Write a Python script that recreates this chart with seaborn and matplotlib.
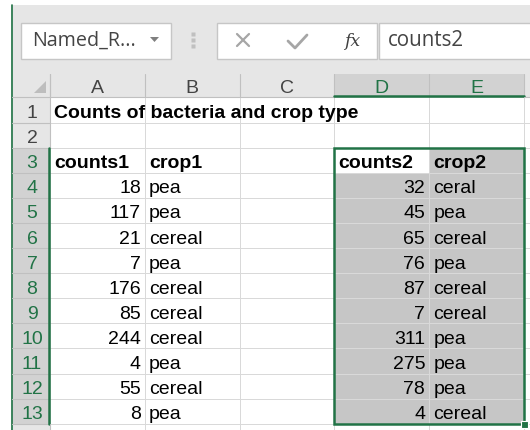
import numpy as np
import pandas as pd
import matplotlib
matplotlib.use("Agg")
import matplotlib.pyplot as plt
from matplotlib.colors import ListedColormap
from matplotlib.patches import Rectangle, Polygon
import seaborn as sns

# -- sheet contents
title = "Counts of bacteria and crop type"
headers = ["counts1", "crop1", "counts2", "crop2"]
counts1 = [18, 117, 21, 7, 176, 85, 244, 4, 55, 8]
crop1 = ["pea", "pea", "cereal", "pea", "cereal", "cereal", "cereal", "pea", "cereal", "pea"]
counts2 = [32, 45, 65, 76, 87, 7, 311, 275, 78, 4]
crop2 = ["ceral", "pea", "cereal", "pea", "cereal", "cereal", "pea", "pea", "pea", "cereal"]
col_letters = ["A", "B", "C", "D", "E"]
row_numbers = list(range(1, 14))
name_box = "Named_R..."
formula = "counts2"

df = pd.DataFrame({"counts1": counts1, "crop1": crop1,
                   "counts2": counts2, "crop2": crop2})

# -- look
sns.set_theme(style="white")
plt.rcParams["font.family"] = ["Liberation Sans", "DejaVu Sans"]

GREEN = "#217346"
TOOL_BG = "#e6e6e6"
HDR_BG = "#e6e6e6"
HDR_SEL = "#d2d2d2"
SEL = "#c6c6c6"
GRID = "#d9d9d9"
HDR_LINE = "#c0c0c0"
TXT = "#000000"
HDR_TXT = "#444444"
FS = 14

W, H = 530, 430
X0, CW = 50.0, 94.8          # first column left edge, column width
RH0, RW = 12.0, 38.0         # row header left edge, width
Y0, RH = 97.4, 25.1          # first row top edge, row height
HY0 = 74.0                   # column header top

fig = plt.figure(figsize=(W / 100, H / 100), dpi=100)
fig.patch.set_facecolor(TOOL_BG)

# cell area as a heatmap (white cells, grey selection D4:E13)
n_rows, n_cols = 14, 6
mask = np.zeros((n_rows, n_cols))
mask[3:3 + len(df), 3:5] = 1
mask[2, 4] = 1
hm = fig.add_axes([X0 / W, (H - (Y0 + n_rows * RH)) / H, n_cols * CW / W, n_rows * RH / H])
hm.set_zorder(1)
sns.heatmap(mask, ax=hm, cmap=ListedColormap(["white", SEL]), vmin=0, vmax=1,
            cbar=False, linewidths=0.7, linecolor=GRID,
            xticklabels=False, yticklabels=False)

# overlay axes in pixel units
ax = fig.add_axes([0, 0, 1, 1])
ax.set_zorder(2)
ax.set_xlim(0, W)
ax.set_ylim(H, 0)
ax.axis("off")
ax.patch.set_alpha(0)

# window edges
ax.add_patch(Rectangle((0, 0), W, 5, color="white", lw=0))
ax.add_patch(Rectangle((0, 0), 11, H, color="white", lw=0))
ax.plot([11.5, 11.5], [5, H], color=GREEN, lw=1.2)

# formula bar
box_kw = dict(facecolor="white", edgecolor="#c6c6c6", lw=1)
ax.add_patch(Rectangle((20.5, 22.5), 150, 36, **box_kw))
ax.add_patch(Rectangle((216.5, 22.5), 160, 36, **box_kw))
ax.add_patch(Rectangle((378.5, 22.5), 160, 36, **box_kw))
ax.text(32, 41, name_box, fontsize=14.2, color=HDR_TXT, va="center",
        family=["Open Sans", "DejaVu Sans"])
ax.add_patch(Polygon([[150, 37], [159, 37], [154.5, 42]], color="#7f7f7f", lw=0))
for yy in (34, 40, 46):
    ax.plot(193, yy, "s", ms=2.2, color="#c0c0c0", mec="none")
ax.plot([237, 249], [34, 46], color="#a6a6a6", lw=1.6)
ax.plot([237, 249], [46, 34], color="#a6a6a6", lw=1.6)
ax.plot([288, 295, 307], [41, 48, 35], color="#a6a6a6", lw=2)
ax.text(352, 41, "fx", fontsize=12.5, style="italic", color="#404040",
        ha="center", va="center", family=["DejaVu Serif"])
ax.text(388, 41, formula, fontsize=14.8, color=HDR_TXT, va="center",
        family=["Open Sans", "DejaVu Sans"])

# column headers
ax.add_patch(Rectangle((RH0, HY0), W - RH0, Y0 - HY0, color=HDR_BG, lw=0))
ax.add_patch(Polygon([[34, 93], [46, 93], [46, 81]], color="#bdbdbd", lw=0))
for j in range(n_cols):
    xl = X0 + j * CW
    sel = j in (3, 4)
    if sel:
        ax.add_patch(Rectangle((xl, HY0), CW, Y0 - HY0, color=HDR_SEL, lw=0))
    ax.plot([xl, xl], [HY0, Y0], color=HDR_LINE, lw=0.8)
    if j < len(col_letters):
        ax.text(xl + CW / 2, Y0 - 4.5, col_letters[j], fontsize=FS, ha="center",
                va="baseline", color=GREEN if sel else HDR_TXT)
ax.plot([RH0, X0 + 3 * CW], [Y0, Y0], color=HDR_LINE, lw=0.8)
ax.plot([X0 + 3 * CW, X0 + 5 * CW], [Y0 - 1, Y0 - 1], color=GREEN, lw=1.8)
ax.plot([X0 + 5 * CW, W], [Y0, Y0], color=HDR_LINE, lw=0.8)

# row headers
for i in range(n_rows):
    yt = Y0 + i * RH
    sel = 2 <= i <= 12
    ax.add_patch(Rectangle((RH0, yt), RW, RH, color=HDR_SEL if sel else HDR_BG, lw=0))
    ax.plot([RH0, X0], [yt + RH, yt + RH], color=HDR_LINE, lw=0.8)
    if i < len(row_numbers):
        ax.text(RH0 + RW / 2 + 1, yt + RH - 4.5, str(row_numbers[i]), fontsize=FS,
                ha="center", va="baseline", color=GREEN if sel else HDR_TXT)
ax.plot([X0, X0], [HY0, Y0 + 2 * RH], color=HDR_LINE, lw=0.8)
ax.plot([X0 - 0.8, X0 - 0.8], [Y0 + 2 * RH, Y0 + 13 * RH], color=GREEN, lw=1.8)
ax.plot([X0, X0], [Y0 + 13 * RH, H], color=HDR_LINE, lw=0.8)


def cell_text(row, col, s, right=False, bold=False):
    yb = Y0 + row * RH - 4.5
    if right:
        ax.text(X0 + (col + 1) * CW - 4, yb, s, ha="right", va="baseline",
                fontsize=FS, color=TXT, fontweight="bold" if bold else "normal")
    else:
        ax.text(X0 + col * CW + 4, yb, s, ha="left", va="baseline",
                fontsize=FS, color=TXT, fontweight="bold" if bold else "normal")


cell_text(1, 0, title, bold=True)
for k, name in enumerate(headers):
    cell_text(3, k if k < 2 else k + 1, name, bold=True)
for r, row in df.iterrows():
    cell_text(r + 4, 0, str(row["counts1"]), right=True)
    cell_text(r + 4, 1, row["crop1"])
    cell_text(r + 4, 3, str(row["counts2"]), right=True)
    cell_text(r + 4, 4, row["crop2"])

# selection border and fill handle
sx0, sx1 = X0 + 3 * CW, X0 + 5 * CW
sy0, sy1 = Y0 + 2 * RH, Y0 + 13 * RH
ax.add_patch(Rectangle((sx0, sy0), sx1 - sx0, sy1 - sy0, fill=False,
                       edgecolor=GREEN, lw=1.8))
ax.add_patch(Rectangle((sx1 - 3, sy1 - 3), 7, 7, facecolor=GREEN,
                       edgecolor="white", lw=0.8, zorder=5))

fig.savefig("out.png", dpi=100)
